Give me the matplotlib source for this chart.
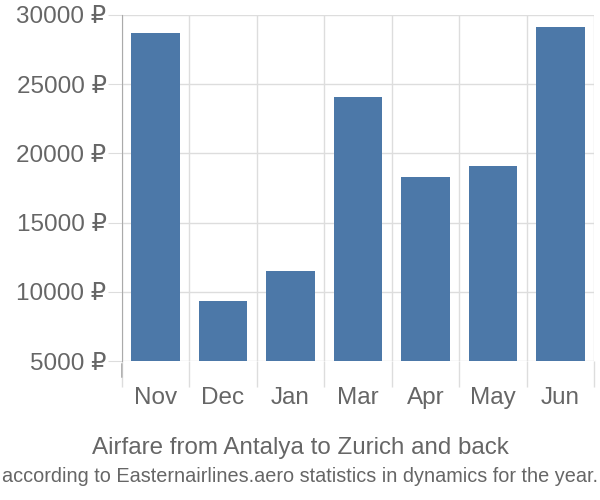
import matplotlib
matplotlib.use('Agg')
import matplotlib.pyplot as plt
from matplotlib.ticker import FixedLocator, FuncFormatter

# --- Data ---
months = ['Nov', 'Dec', 'Jan', 'Mar', 'Apr', 'May', 'Jun']
prices = [28700, 9350, 11500, 24050, 18300, 19100, 29150]
y_ticks = [5000, 10000, 15000, 20000, 25000, 30000]

BAR_COLOR = '#4c78a8'
TEXT_COLOR = '#666666'
GRID_COLOR = '#dddddd'

plt.rcParams['font.family'] = ['Liberation Sans', 'DejaVu Sans']

fig = plt.figure(figsize=(6, 5), dpi=100)
ax = fig.add_axes([0.203, 0.278, 0.787, 0.692])

x = list(range(len(months)))
ax.bar(x, prices, width=0.72, color=BAR_COLOR, zorder=3)

ax.set_xlim(-0.5, len(months) - 0.5)
ax.set_ylim(5000, 30000)

# y axis: gridlines + labels with ruble sign
ax.set_yticks(y_ticks)
ax.yaxis.set_major_formatter(FuncFormatter(lambda v, p: f'{int(v)} \u20bd'))
ax.tick_params(axis='y', length=10, color=GRID_COLOR, labelsize=17.5,
               labelcolor=TEXT_COLOR, pad=1)
ax.grid(axis='y', color=GRID_COLOR, linewidth=1, zorder=0)

# x axis: labels centered, tick lines/grid at category boundaries
ax.set_xticks(x)
ax.set_xticklabels(months)
ax.tick_params(axis='x', which='major', length=0, labelsize=17.5,
               labelcolor=TEXT_COLOR, pad=18.5)
bounds = [i - 0.5 for i in range(len(months) + 1)]
ax.xaxis.set_minor_locator(FixedLocator(bounds))
ax.tick_params(axis='x', which='minor', length=19, color=GRID_COLOR, width=1)
ax.grid(axis='x', which='minor', color=GRID_COLOR, linewidth=1, zorder=0)

for side in ['top', 'right', 'bottom']:
    ax.spines[side].set_visible(False)
ax.spines['left'].set_color('#aaaaaa')
ax.spines['left'].set_bounds(5000, 30000)
# darker tick under the left spine
ax.annotate('', xy=(-0.5, -0.055), xycoords=('data', 'axes fraction'),
            xytext=(-0.5, 0), textcoords=('data', 'axes fraction'),
            arrowprops=dict(arrowstyle='-', color='#aaaaaa', lw=1))

fig.text(0.5, 0.104, 'Airfare from Antalya to Zurich and back',
         ha='center', va='center', fontsize=17.4, color=TEXT_COLOR)
fig.text(0.5, 0.048, 'according to Easternairlines.aero statistics in dynamics for the year.',
         ha='center', va='center', fontsize=14.3, color=TEXT_COLOR)

fig.savefig('out.png', dpi=100)
